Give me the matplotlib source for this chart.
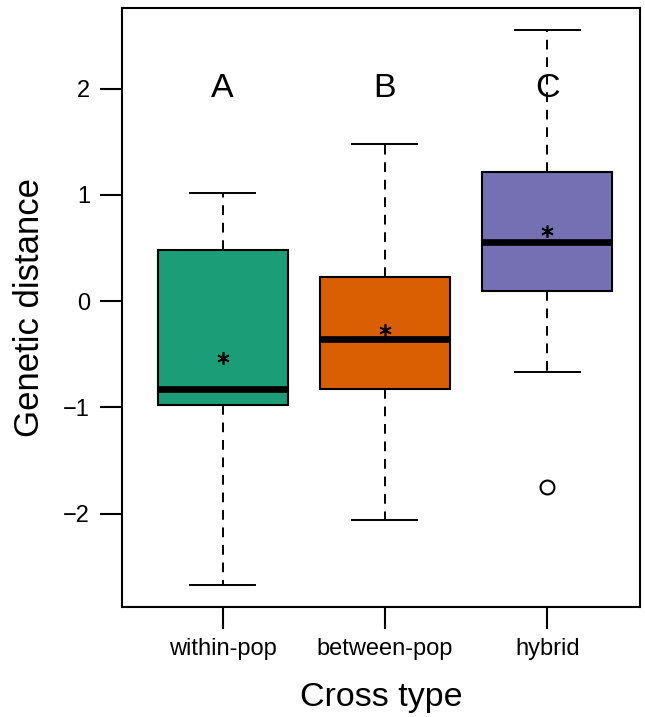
import matplotlib
matplotlib.use("Agg")
import matplotlib.pyplot as plt

plt.rcParams['font.family'] = ['Liberation Sans', 'DejaVu Sans']

# values
cross_types = ["within-pop", "between-pop", "hybrid"]
whisk_lo = [-2.67, -2.06, -0.67]
q1 = [-0.98, -0.83, 0.095]
medians = [-0.83, -0.36, 0.56]
q3 = [0.48, 0.225, 1.22]
whisk_hi = [1.02, 1.48, 2.555]
means = [-0.54, -0.27, 0.66]
outliers = [[], [], [-1.75]]
letters = ["A", "B", "C"]
letter_y = 2.0
colors = ["#1B9E77", "#D95F02", "#7570B3"]
yticks = [-2, -1, 0, 1, 2]

fig = plt.figure(figsize=(6.45, 7.17), dpi=100)
ax = fig.add_axes([0.189, 0.1534, 0.803, 0.8354])

stats = []
for i, name in enumerate(cross_types):
    stats.append(dict(label=name, med=medians[i], q1=q1[i], q3=q3[i],
                      whislo=whisk_lo[i], whishi=whisk_hi[i],
                      fliers=outliers[i], mean=means[i]))

pos = list(range(1, len(cross_types) + 1))
bp = ax.bxp(stats, positions=pos, widths=0.8, patch_artist=True,
            showmeans=True, capwidths=0.4,
            boxprops=dict(linewidth=1.5, edgecolor='black'),
            medianprops=dict(color='black', linewidth=4.8, solid_capstyle='butt'),
            whiskerprops=dict(color='black', linewidth=1.4, linestyle=(0, (5, 4))),
            capprops=dict(color='black', linewidth=1.4),
            flierprops=dict(marker='o', markersize=10, markerfacecolor='none',
                            markeredgecolor='black', markeredgewidth=1.5),
            meanprops=dict(marker=(6, 2, 0), markersize=9, markeredgecolor='black',
                           markeredgewidth=1.2))
for patch, c in zip(bp['boxes'], colors):
    patch.set_facecolor(c)

for p, lab in zip(pos, letters):
    ax.text(p, letter_y, lab, ha='center', va='center', fontsize=24.5)

ax.set_xlim(0.38, 3.57)
ax.set_ylim(-2.88, 2.76)
ax.set_yticks(yticks)
ax.set_xticks(pos)
ax.set_xticklabels(cross_types)
ax.tick_params(axis='both', direction='out', length=16, width=1.5, labelsize=17)
ax.tick_params(axis='y', pad=7)
ax.tick_params(axis='x', pad=6)
for s in ax.spines.values():
    s.set_linewidth(1.5)

ax.set_ylabel("Genetic distance", fontsize=25, labelpad=12)
ax.set_xlabel("Cross type", fontsize=24.5, labelpad=16)

fig.savefig("out.png", dpi=100)
